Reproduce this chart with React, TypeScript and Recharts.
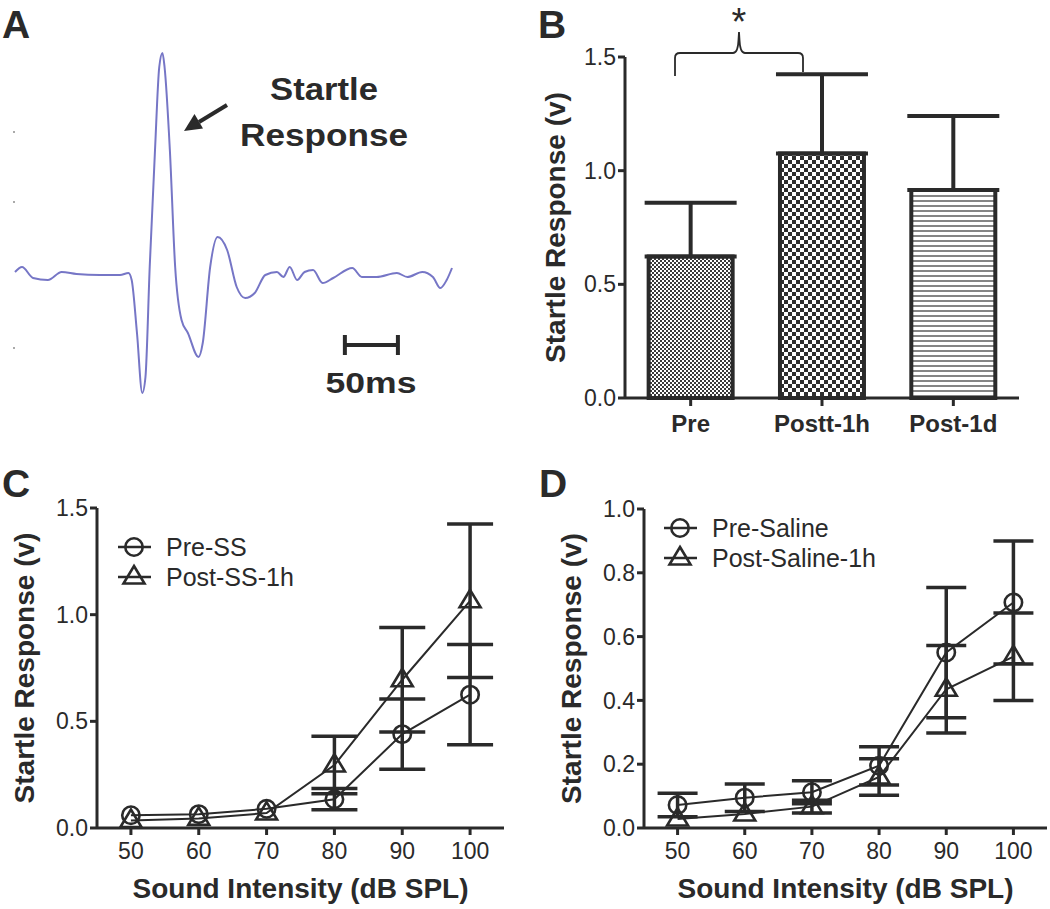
import React from 'react';
import { LineChart, Line, XAxis, YAxis, BarChart, Bar, Cell, ErrorBar, ReferenceLine, Legend, Label } from 'recharts';

const INK = '#2a2a2a';
const TRACE = '#7676c6';
const FONT = '"Liberation Sans", Arial, Helvetica, sans-serif';

// ---------- Panel A: raw startle waveform ----------
const traceTimeMs = [0, 6.6, 17, 31, 44, 58, 80, 99, 107, 110, 115, 120, 123, 127, 132, 136, 139, 141, 146, 151, 157, 163, 173, 177, 184, 191, 200, 209, 217, 226, 236, 247, 253, 259, 266, 273, 281, 290, 300, 318, 327, 341, 360, 370, 384, 394, 401, 407, 412];
const traceAmp = [0.03, 0.08, -0.03, -0.05, 0.03, 0.01, 0, 0, 0.02, -0.05, -0.58, -1.18, -1.02, 0.08, 1.25, 2.08, 2.22, 2.08, 1.25, 0.08, -0.45, -0.58, -0.82, -0.68, 0.08, 0.38, 0.25, -0.12, -0.23, -0.18, 0, 0.03, -0.02, 0.08, -0.05, 0.03, 0.05, -0.08, -0.03, 0.07, -0.02, -0.02, 0.02, -0.02, 0.03, -0.02, -0.13, -0.05, 0.07];
const scaleBarStartMs = 311;
const scaleBarLenMs = 50;
const scaleBarLevel = -0.7;
const scaleBarTick = 0.1;

// ---------- Panel B: bar chart ----------
const phaseLabels = ['Pre', 'Postt-1h', 'Post-1d'];
const phaseMeans = [0.622, 1.076, 0.915];
const phaseErr = [0.237, 0.348, 0.325];
const phaseFills = ['url(#patFine)', 'url(#patCoarse)', 'url(#patLines)'];
const bTicks = [0, 0.5, 1.0, 1.5];

// ---------- Panels C & D (null = error bar hidden behind the symbol) ----------
const intensities = [50, 60, 70, 80, 90, 100];
const cSeriesNames = ['Pre-SS', 'Post-SS-1h'];
const preSS = [0.06, 0.065, 0.09, 0.135, 0.44, 0.625];
const preSSErr = [null, null, null, 0.05, 0.165, 0.235];
const postSS = [0.035, 0.045, 0.07, 0.295, 0.695, 1.065];
const postSSErr = [null, null, null, 0.135, 0.245, 0.36];
const cTicks = [0, 0.5, 1.0, 1.5];

const dSeriesNames = ['Pre-Saline', 'Post-Saline-1h'];
const preSal = [0.072, 0.095, 0.112, 0.195, 0.55, 0.707];
const preSalErr = [0.037, 0.043, 0.036, 0.06, 0.204, 0.193];
const postSal = [0.028, 0.044, 0.067, 0.16, 0.435, 0.537];
const postSalErr = [null, null, 0.02, 0.057, 0.137, 0.137];
const dTicks = [0, 0.2, 0.4, 0.6, 0.8, 1.0];

const traceData = traceTimeMs.map((t, i) => ({ t, amp: traceAmp[i] }));
const barData = phaseLabels.map((name, i) => ({ name, mean: phaseMeans[i], err: [0, phaseErr[i]] }));
const cData = intensities.map((db, i) => ({ db, a: preSS[i], aErr: preSSErr[i], b: postSS[i], bErr: postSSErr[i] }));
const dData = intensities.map((db, i) => ({ db, a: preSal[i], aErr: preSalErr[i], b: postSal[i], bErr: postSalErr[i] }));

const axisLine = { stroke: INK, strokeWidth: 3 };
const tickLine = { stroke: INK, strokeWidth: 3 };
const tickStyle = { fill: INK, fontSize: 23, fontFamily: FONT };
const titleStyle = { fill: INK, fontSize: 28, fontWeight: 700, fontFamily: FONT, textAnchor: 'middle' as const };

function CircleMark({ cx, cy }: { cx: number; cy: number }) {
  return <circle cx={cx} cy={cy} r={8.7} fill="none" stroke={INK} strokeWidth={2.6} />;
}
function TriMark({ cx, cy }: { cx: number; cy: number }) {
  return <path d={`M${cx},${cy - 11} L${cx + 10.5},${cy + 6.5} L${cx - 10.5},${cy + 6.5} Z`} fill="none" stroke={INK} strokeWidth={2.6} />;
}

const circleDot = (p: any) => <CircleMark key={`c${p.index}`} cx={p.cx} cy={p.cy} />;
const triDot = (p: any) => <TriMark key={`t${p.index}`} cx={p.cx} cy={p.cy} />;

function SeriesLegend({ names }: { names: string[] }) {
  return (
    <svg width={280} height={62} style={{ overflow: 'visible', display: 'block' }}>
      {names.map((n, i) => {
        const cy = 15 + i * 30;
        return (
          <g key={n}>
            <line x1={8} x2={41} y1={cy} y2={cy} stroke={INK} strokeWidth={2.5} />
            {i === 0 ? <CircleMark cx={24} cy={cy} /> : <TriMark cx={24} cy={cy} />}
            <text x={56} y={cy} dy="0.36em" fontSize={25} fill={INK} fontFamily={FONT}>{n}</text>
          </g>
        );
      })}
    </svg>
  );
}

function PanelA() {
  return (
    <LineChart width={470} height={420} data={traceData} margin={{ top: 53, right: 18, bottom: 27, left: 15 }}>
      <XAxis type="number" dataKey="t" domain={[0, 412]} hide />
      <YAxis type="number" domain={[-1.18, 2.22]} hide />
      <Line type="monotone" dataKey="amp" stroke={TRACE} strokeWidth={2} dot={false} isAnimationActive={false} />
      <ReferenceLine segment={[{ x: scaleBarStartMs, y: scaleBarLevel }, { x: scaleBarStartMs + scaleBarLenMs, y: scaleBarLevel }]} stroke={INK} strokeWidth={4} />
      <ReferenceLine segment={[{ x: scaleBarStartMs, y: scaleBarLevel - scaleBarTick }, { x: scaleBarStartMs, y: scaleBarLevel + scaleBarTick }]} stroke={INK} strokeWidth={4} />
      <ReferenceLine segment={[{ x: scaleBarStartMs + scaleBarLenMs, y: scaleBarLevel - scaleBarTick }, { x: scaleBarStartMs + scaleBarLenMs, y: scaleBarLevel + scaleBarTick }]} stroke={INK} strokeWidth={4} />
    </LineChart>
  );
}

function PanelB() {
  return (
    <BarChart width={550} height={460} data={barData} margin={{ top: 57, right: 31, bottom: 12, left: 40 }} barCategoryGap="18%">
      <defs>
        <pattern id="patFine" width="4" height="4" patternUnits="userSpaceOnUse">
          <rect width="4" height="4" fill="#ffffff" />
          <rect width="2" height="2" fill="#3a3a3a" />
          <rect x="2" y="2" width="2" height="2" fill="#3a3a3a" />
        </pattern>
        <pattern id="patCoarse" width="8" height="8" patternUnits="userSpaceOnUse">
          <rect width="8" height="8" fill="#ffffff" />
          <rect width="4" height="4" fill="#2e2e2e" />
          <rect x="4" y="4" width="4" height="4" fill="#2e2e2e" />
        </pattern>
        <pattern id="patLines" width="5" height="5" patternUnits="userSpaceOnUse">
          <rect width="5" height="5" fill="#ffffff" />
          <rect width="5" height="2" fill="#858585" />
        </pattern>
      </defs>
      <XAxis dataKey="name" type="category" axisLine={axisLine} tickLine={tickLine} tickSize={8} tickMargin={9} height={50}
        tick={{ fill: INK, fontSize: 24, fontWeight: 700, fontFamily: FONT }} />
      <YAxis type="number" domain={[0, 1.5]} ticks={bTicks} width={85} axisLine={axisLine} tickLine={tickLine} tickSize={7}
        tick={tickStyle} tickFormatter={(v: number) => v.toFixed(1)}>
        <Label value="Startle Response (v)" angle={-90} position="insideLeft" offset={15} style={titleStyle} />
      </YAxis>
      <Bar dataKey="mean" stroke={INK} strokeWidth={4} isAnimationActive={false}>
        {barData.map((d, i) => <Cell key={d.name} fill={phaseFills[i]} />)}
        <ErrorBar dataKey="err" width={46} strokeWidth={4} stroke={INK} direction="y" />
      </Bar>
    </BarChart>
  );
}

function IntensityPanel({ data, names, yMax, ticks, marginLeft, marginRight, marginTop, legendPos, capWidth }:
  { data: any[]; names: string[]; yMax: number; ticks: number[]; marginLeft: number; marginRight: number; marginTop: number; legendPos: { left: number; top: number }; capWidth: number }) {
  return (
    <LineChart width={525} height={449} data={data} margin={{ top: marginTop, right: marginRight, bottom: 9, left: marginLeft }}>
      <XAxis type="number" dataKey="db" domain={[45, 105]} ticks={intensities} axisLine={axisLine} tickLine={tickLine}
        tickSize={7} tickMargin={8} height={72} tick={tickStyle}>
        <Label value="Sound Intensity (dB SPL)" position="insideBottom" offset={2} style={titleStyle} />
      </XAxis>
      <YAxis type="number" domain={[0, yMax]} ticks={ticks} width={87} axisLine={axisLine} tickLine={tickLine} tickSize={7}
        tick={tickStyle} tickFormatter={(v: number) => v.toFixed(1)}>
        <Label value="Startle Response (v)" angle={-90} position="insideLeft" offset={14} style={titleStyle} />
      </YAxis>
      <Legend layout="vertical" align="center" verticalAlign="middle" content={() => <SeriesLegend names={names} />}
        wrapperStyle={{ left: legendPos.left, top: legendPos.top, width: 280, height: 62 }} />
      <Line name={names[0]} type="linear" dataKey="a" stroke={INK} strokeWidth={2} dot={circleDot} isAnimationActive={false}>
        <ErrorBar dataKey="aErr" width={capWidth} strokeWidth={3.5} stroke={INK} direction="y" />
      </Line>
      <Line name={names[1]} type="linear" dataKey="b" stroke={INK} strokeWidth={2} dot={triDot} isAnimationActive={false}>
        <ErrorBar dataKey="bErr" width={capWidth} strokeWidth={3.5} stroke={INK} direction="y" />
      </Line>
    </LineChart>
  );
}

function Overlay() {
  const letter = { fontSize: 39, fontWeight: 700, fill: INK, fontFamily: FONT };
  return (
    <svg width={1050} height={909} style={{ position: 'absolute', left: 0, top: 0, pointerEvents: 'none' }}>
      <text x={2} y={38} {...letter}>A</text>
      <text x={538} y={38} {...letter}>B</text>
      <text x={2} y={497} {...letter}>C</text>
      <text x={539} y={497} {...letter}>D</text>
      {/* panel A annotations */}
      <text x={324} y={100} textAnchor="middle" fontSize={32} fontWeight={700} fill={INK} fontFamily={FONT} textLength={108} lengthAdjust="spacingAndGlyphs">Startle</text>
      <text x={324} y={146} textAnchor="middle" fontSize={32} fontWeight={700} fill={INK} fontFamily={FONT} textLength={168} lengthAdjust="spacingAndGlyphs">Response</text>
      <line x1={227} y1={105} x2={199} y2={122} stroke={INK} strokeWidth={4} />
      <polygon points="184,131 203,128.5 194.5,114" fill={INK} />
      <text x={371} y={393} textAnchor="middle" fontSize={30} fontWeight={700} fill={INK} fontFamily={FONT} textLength={91} lengthAdjust="spacingAndGlyphs">50ms</text>
      <rect x={13} y={131} width={2} height={2} fill="#aaaaaa" />
      <rect x={13} y={201} width={2} height={2} fill="#aaaaaa" />
      <rect x={13} y={347} width={2} height={2} fill="#aaaaaa" />
      {/* panel B significance bracket */}
      <path d="M675,76 V58 Q675,53 680,53 H733 Q738,53 738.5,40 L739,32 L739.5,40 Q740,53 745,53 H798 Q803,53 803,58 V72" fill="none" stroke={INK} strokeWidth={1.8} />
      <text x={739} y={35} textAnchor="middle" fontSize={38} fill={INK} fontFamily={FONT}>*</text>
    </svg>
  );
}

export default function App() {
  return (
    <div style={{ position: 'absolute', left: 0, top: 0, width: 1050, height: 909, background: '#ffffff', overflow: 'hidden', fontFamily: FONT }}>
      <div style={{ position: 'absolute', left: 0, top: 0 }}><PanelA /></div>
      <div style={{ position: 'absolute', left: 500, top: 0 }}><PanelB /></div>
      <div style={{ position: 'absolute', left: 0, top: 460 }}>
        <IntensityPanel data={cData} names={cSeriesNames} yMax={1.5} ticks={cTicks} marginLeft={10} marginRight={21} marginTop={48}
          legendPos={{ left: 110, top: 72 }} capWidth={23} />
      </div>
      <div style={{ position: 'absolute', left: 525, top: 460 }}>
        <IntensityPanel data={dData} names={dSeriesNames} yMax={1.0} ticks={dTicks} marginLeft={32} marginRight={3} marginTop={49}
          legendPos={{ left: 131, top: 53 }} capWidth={20} />
      </div>
      <Overlay />
    </div>
  );
}
